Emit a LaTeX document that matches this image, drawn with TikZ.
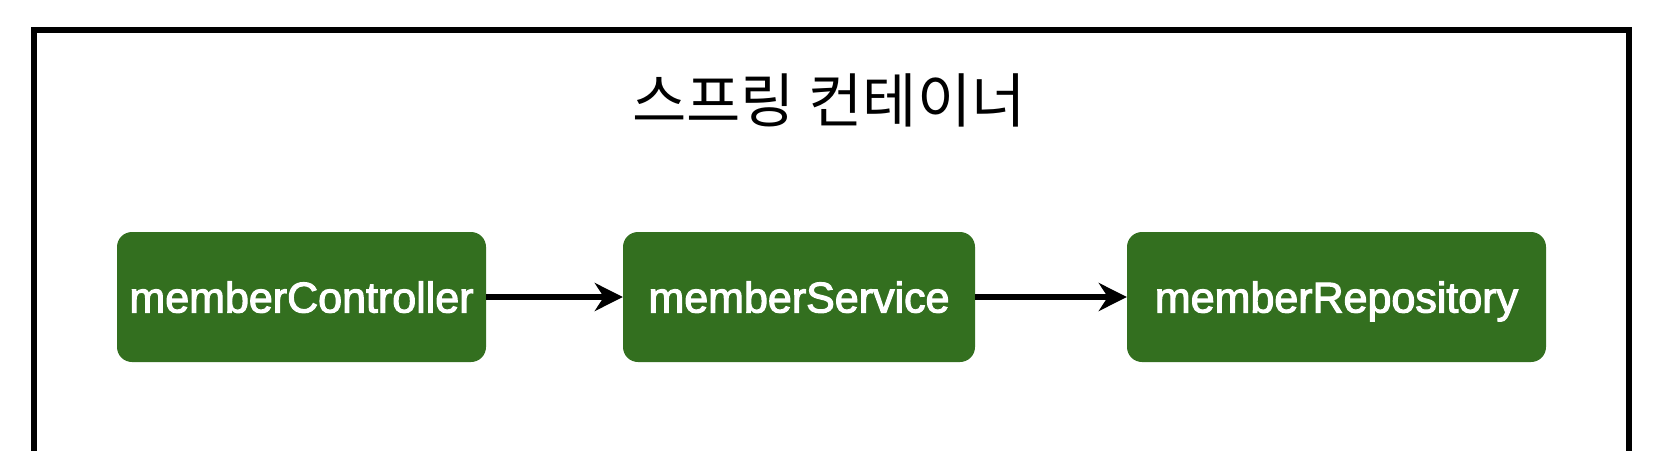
\documentclass[tikz,border=0pt]{standalone}
\usepackage{fontspec}
\setmainfont{Liberation Sans}
\newfontfamily\beanfont[FakeBold=2.6]{Liberation Sans}
\newfontfamily\kofont{Noto Sans CJK KR}
\usetikzlibrary{arrows.meta}
\definecolor{beangreen}{HTML}{336F1F}
\tikzset{
  bean/.style={draw=none, fill=beangreen, rounded corners=15pt, minimum height=130pt,
    text=white, font=\beanfont\fontsize{43pt}{50pt}\selectfont, text height=31pt, text depth=0pt,
    inner sep=0pt},
  link/.style={line width=5.5pt, -{Stealth[length=28pt, width=28pt, inset=9pt]}}
}
\begin{document}
\begin{tikzpicture}[x=1pt,y=-1pt]
\useasboundingbox (0,0) rectangle (1672,450);
\draw[line width=6pt] (1629,480) -- (1629,29.5) -- (34,29.5) -- (34,480);
\node[font=\kofont\fontsize{59pt}{66pt}\selectfont, inner sep=0pt] (title) at (829,100) {스프링 컨테이너};
\node[bean, minimum width=369pt] (ctrl) at (301.5,297) {memberController};
\node[bean, minimum width=352pt] (svc) at (799,297) {memberService};
\node[bean, minimum width=419pt] (repo) at (1336.5,297) {memberRepository};
\draw[link] (ctrl.east) -- (svc.west);
\draw[link] (svc.east) -- (repo.west);
\end{tikzpicture}
\end{document}
